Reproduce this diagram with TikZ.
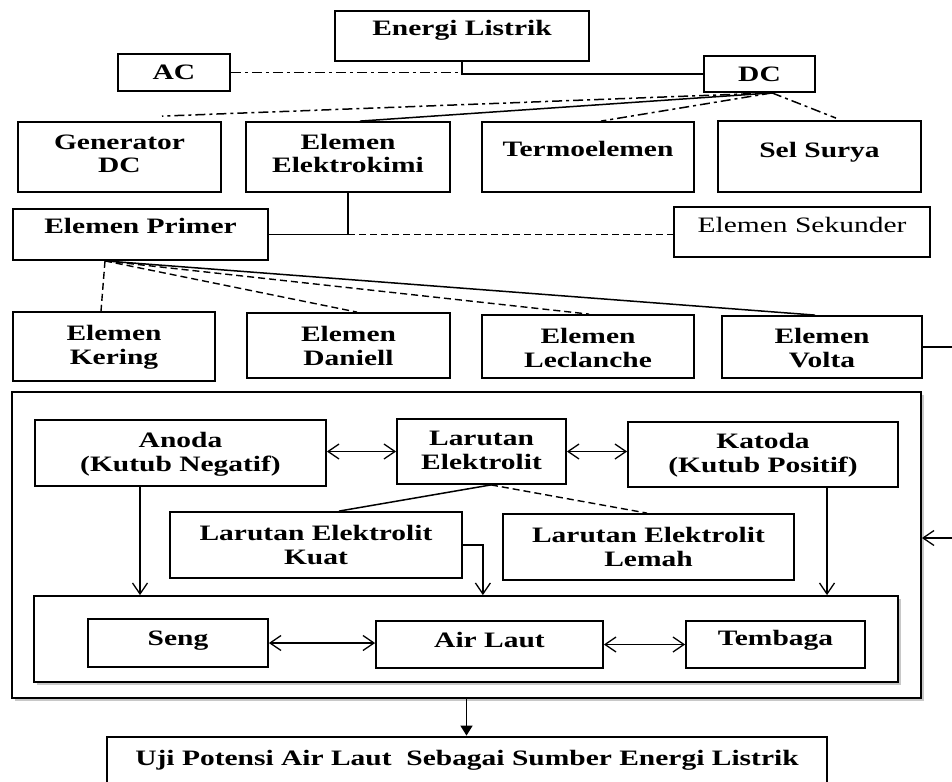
\documentclass[tikz,border=0pt]{standalone}
\usepackage{fontspec}
\setmainfont{Liberation Serif}[FakeStretch=1.34]
\usetikzlibrary{arrows.meta,shadows,calc}

\newcommand{\twoline}[2]{\begin{tabular}[t]{@{}c@{}}#1\\#2\end{tabular}}
\newcommand{\mkbox}[6][]{\node[box,minimum width={(#5-#3)*1pt},minimum height={(#6-#4)*1pt},#1] (#2) at ({(#3+#5)/2},{(#4+#6)/2}) {};}

\begin{document}
\begin{tikzpicture}[x=1pt,y=-1pt,
  box/.style={draw, line width=1.8pt, inner sep=0pt, fill=white},
  txt/.style={inner sep=0pt, anchor=base, font=\fontsize{22}{24}\selectfont\bfseries},
  ntxt/.style={inner sep=0pt, anchor=base, font=\fontsize{22}{24}\selectfont},
  con/.style={line width=1.5pt},
  dd/.style={line width=1.5pt, dash pattern=on 10pt off 4pt on 3pt off 4pt},
  dsh/.style={line width=1.4pt, dash pattern=on 7pt off 4pt},
  barbs/.style={line width=1.3pt, {Straight Barb[length=11pt,width=15pt]}-{Straight Barb[length=11pt,width=15pt]}},
  barb/.style={line width=1.3pt, -{Straight Barb[length=11pt,width=15pt]}},
  tri/.style={line width=1.6pt, -{Triangle[length=10pt,width=12pt]}},
  shad/.style={drop shadow={shadow xshift=3pt, shadow yshift=-3pt, opacity=0.3, fill=black!70}}
]
\clip (0,0) rectangle (952,781);
\fill[white] (0,0) rectangle (952,781);

% top level
\mkbox{EL}{335}{11}{589}{61}
\mkbox{AC}{118}{54}{230}{91}
\mkbox{DC}{704}{56}{815}{92}
\mkbox{GEN}{18}{122}{221}{192}
\mkbox{EK}{246}{122}{450}{192}
\mkbox{TE}{482}{122}{694}{192}
\mkbox{SS}{718}{121}{921}{192}
\mkbox{EP}{13}{209}{268}{260}
\mkbox{ES}{674}{207}{930}{257}
\mkbox{KER}{13}{312}{215}{381}
\mkbox{DAN}{247}{313}{450}{378}
\mkbox{LEC}{482}{315}{694}{378}
\mkbox{VOL}{722}{316}{922}{378}

% big container
\mkbox[shad]{BIG}{12}{392}{921}{698}
\mkbox{AN}{35}{420}{326}{486}
\mkbox{LE}{397}{419}{566}{484}
\mkbox{KA}{628}{422}{898}{487}
\mkbox{KU}{170}{512}{462}{578}
\mkbox{LM}{503}{514}{794}{580}
\mkbox[shad]{INNER}{34}{596}{898}{682}
\mkbox{SENG}{88}{619}{268}{667}
\mkbox{AIR}{376}{621}{603}{668}
\mkbox{TEM}{686}{621}{865}{668}
\mkbox[line width=2.8pt]{UJI}{107}{737}{827}{800}

% texts
\node[txt] (tEL) at (EL.center |- 0,36) {Energi Listrik};
\node[txt] (tAC) at (AC.center |- 0,80) {AC};
\node[txt] (tDC) at (DC.center |- 0,82) {DC};
\node[txt] (tGEN) at (GEN.center |- 0,149) {\twoline{Generator}{DC}};
\node[txt] (tEK) at (EK.center |- 0,149) {\twoline{Elemen}{Elektrokimi}};
\node[txt] (tTE) at (TE.center |- 0,156) {Termoelemen};
\node[txt] (tSS) at (SS.center |- 0,157) {Sel Surya};
\node[txt] (tEP) at (EP.center |- 0,233) {Elemen Primer};
\node[ntxt] (tES) at (ES.center |- 0,232) {Elemen Sekunder};
\node[txt] (tKER) at (KER.center |- 0,340) {\twoline{Elemen}{Kering}};
\node[txt] (tDAN) at (DAN.center |- 0,341) {\twoline{Elemen}{Daniell}};
\node[txt] (tLEC) at (LEC.center |- 0,343) {\twoline{Elemen}{Leclanche}};
\node[txt] (tVOL) at (VOL.center |- 0,343) {\twoline{Elemen}{Volta}};
\node[txt] (tAN) at (AN.center |- 0,447) {\twoline{Anoda}{(Kutub Negatif)}};
\node[txt] (tLE) at (LE.center |- 0,445) {\twoline{Larutan}{Elektrolit}};
\node[txt] (tKA) at (KA.center |- 0,448) {\twoline{Katoda}{(Kutub Positif)}};
\node[txt] (tKU) at (KU.center |- 0,540) {\twoline{Larutan Elektrolit}{Kuat}};
\node[txt] (tLM) at (LM.center |- 0,542) {\twoline{Larutan Elektrolit}{Lemah}};
\node[txt] (tSENG) at (SENG.center |- 0,645) {Seng};
\node[txt] (tAIR) at (AIR.center |- 0,647) {Air Laut};
\node[txt] (tTEM) at (TEM.center |- 0,645) {Tembaga};
\node[txt] (tUJI) at (UJI.center |- 0,765) {Uji Potensi Air Laut\ \ Sebagai Sumber Energi Listrik};

% connectors: top
\draw[con] (EL.south) |- (DC.west);
\draw[dd] (AC.east) -- (AC.east -| EL.south);
\coordinate (dcb) at ([xshift=12.5pt]DC.south);
\coordinate (genE) at ([xshift=42.5pt,yshift=5pt]GEN.north);
\draw[dd] (dcb) -- (genE);
\draw[con] (dcb) -- ([xshift=12pt]EK.north);
\draw[dd] (dcb) -- ([xshift=13pt]TE.north);
\draw[dd] (dcb) -- ([xshift=16.5pt,yshift=2pt]SS.north);

% Elektrokimi -> Primer / Sekunder
\draw[con] (EP.east) -| (EK.south);
\draw[dsh] (EK.south |- EP.east) -- (EP.east -| ES.west);

% Primer -> elements
\coordinate (epb) at ([xshift=-35.5pt]EP.south);
\draw[dsh] (epb) -- ([xshift=-13pt]KER.north);
\draw[dsh] (epb) -- ([xshift=8.5pt]DAN.north);
\draw[dsh] (epb) -- ([xshift=1pt]LEC.north);
\draw[con] (epb) -- ([xshift=-7pt]VOL.north);

% right side
\coordinate (rv) at (952,347);
\draw[con] (VOL.east) -- (rv);
\coordinate (rb) at (952,538);
\draw[barb] (rb) -- (rb -| BIG.east);

% inside big box
\draw[barbs] (LE.west -| AN.east) -- (LE.west);
\draw[barbs] (LE.east) -- (LE.east -| KA.west);
\coordinate (leb) at ([xshift=9.5pt]LE.south);
\draw[con] (leb) -- ([xshift=23pt]KU.north);
\draw[dsh] (leb) -- ([xshift=-1.5pt]LM.north);

\coordinate (anb) at ([xshift=-40.5pt]AN.south);
\draw[barb] (anb) -- (anb |- INNER.north);
\coordinate (kut) at ([xshift=20pt]KU.east);
\draw[barb] (KU.east) -- (kut) -- (kut |- INNER.north);
\coordinate (kab) at ([xshift=64pt]KA.south);
\draw[barb] (kab) -- (kab |- INNER.north);

\draw[barbs] (SENG.east) -- (SENG.east -| AIR.west);
\draw[barbs] (AIR.east) -- (AIR.east -| TEM.west);

\draw[tri] (BIG.south) -- (BIG.south |- UJI.north);
\end{tikzpicture}
\end{document}
